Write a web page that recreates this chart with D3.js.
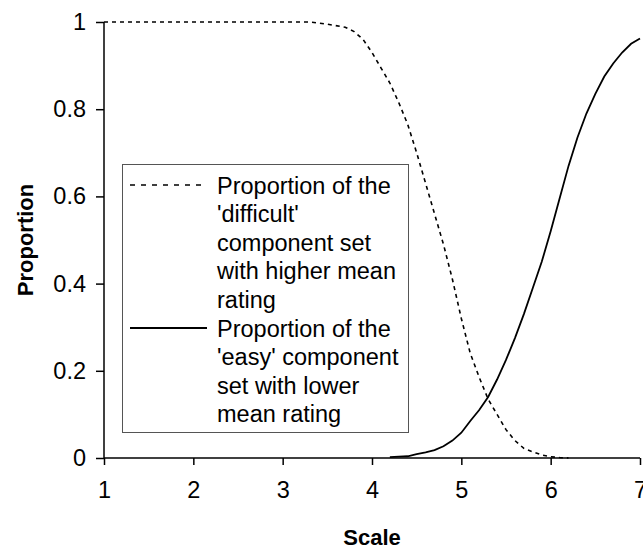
<!DOCTYPE html>
<html>
<head>
<meta charset="utf-8">
<script src="https://d3js.org/d3.v7.min.js"></script>
<style>
  body { margin: 0; background: #fff; }
  text { font-family: Arial, "Liberation Sans", sans-serif; fill: #000; }
</style>
</head>
<body>
<div id="chart"></div>
<script>
// scale values on x axis
var xTicks = [1, 2, 3, 4, 5, 6, 7];
var yTicks = [0, 0.2, 0.4, 0.6, 0.8, 1];
var yTickLabels = ["0", "0.2", "0.4", "0.6", "0.8", "1"];

// 'difficult' set, proportion with higher mean rating
var difficultX = [1, 3.3, 3.5, 3.7, 3.8, 3.9, 4.0, 4.1, 4.2, 4.3, 4.4, 4.5, 4.6, 4.7, 4.8, 4.9,
                  5.0, 5.1, 5.2, 5.3, 5.4, 5.5, 5.6, 5.7, 5.8, 5.9, 6.0, 6.1, 6.2];
var difficultY = [1, 1, 0.995, 0.988, 0.978, 0.96, 0.93, 0.895, 0.86, 0.815, 0.765, 0.70, 0.63, 0.56, 0.49, 0.41,
                  0.32, 0.24, 0.185, 0.135, 0.10, 0.065, 0.04, 0.022, 0.014, 0.007, 0.003, 0.001, 0];

// 'easy' set, proportion with lower mean rating
var easyX = [4.2, 4.3, 4.4, 4.5, 4.6, 4.7, 4.8, 4.9, 5.0, 5.1, 5.2, 5.3, 5.4, 5.5, 5.6, 5.7, 5.8,
             5.9, 6.0, 6.1, 6.2, 6.3, 6.4, 6.5, 6.6, 6.7, 6.8, 6.9, 7.0];
var easyY = [0.002, 0.003, 0.004, 0.009, 0.013, 0.018, 0.027, 0.04, 0.058, 0.085, 0.11, 0.14, 0.18, 0.225, 0.275, 0.33, 0.39,
             0.45, 0.52, 0.595, 0.67, 0.735, 0.79, 0.835, 0.875, 0.905, 0.93, 0.95, 0.962];

var legendLabels = [
    ["Proportion of the", "'difficult'", "component set", "with higher mean", "rating"],
    ["Proportion of the", "'easy' component", "set with lower", "mean rating"]
];

var W = 643, H = 551;

var svg = d3.select("#chart").append("svg")
    .attr("width", W)
    .attr("height", H);

var x = d3.scaleLinear().domain([1, 7]).range([104, 640]);
var y = d3.scaleLinear().domain([0, 1]).range([458, 22]);

// axes
var xAxis = d3.axisBottom(x).tickValues(xTicks).tickSize(7).tickFormat(d3.format("d"));
var yAxis = d3.axisLeft(y).tickValues(yTicks).tickSize(8)
    .tickFormat(function(d, i) { return yTickLabels[i]; });

var gx = svg.append("g").attr("transform", "translate(0," + y(0) + ")").call(xAxis);
var gy = svg.append("g").attr("transform", "translate(" + x(1) + ",0)").call(yAxis);

[gx, gy].forEach(function(g) {
    g.select(".domain").attr("stroke", "#000").attr("stroke-width", 1.5);
    g.selectAll(".tick line").attr("stroke", "#000").attr("stroke-width", 1.5);
    g.selectAll(".tick text")
        .attr("font-size", 23.5)
        .attr("font-family", "Arial, 'Liberation Sans', sans-serif")
        .attr("fill", "#000");
});
gx.select(".domain").attr("d", "M" + x(1) + ",0H" + x(7));
gy.select(".domain").attr("d", "M0," + y(0) + "V" + y(1));
gx.selectAll(".tick text").attr("y", 23);
gy.selectAll(".tick text").attr("x", -18);

// axis titles
svg.append("text")
    .attr("x", 372).attr("y", 545)
    .attr("text-anchor", "middle")
    .attr("font-size", 22).attr("font-weight", "bold")
    .text("Scale");

svg.append("text")
    .attr("transform", "translate(33,240) rotate(-90)")
    .attr("text-anchor", "middle")
    .attr("font-size", 22).attr("font-weight", "bold")
    .text("Proportion");

// curves
var line = d3.line()
    .x(function(d) { return x(d[0]); })
    .y(function(d) { return y(d[1]); });

var difficult = d3.zip(difficultX, difficultY);
var easy = d3.zip(easyX, easyY);

svg.append("path")
    .datum(difficult)
    .attr("d", line)
    .attr("fill", "none")
    .attr("stroke", "#000")
    .attr("stroke-width", 1.6)
    .attr("stroke-dasharray", "4,4");

svg.append("path")
    .datum(easy)
    .attr("d", line)
    .attr("fill", "none")
    .attr("stroke", "#000")
    .attr("stroke-width", 1.8);

// legend
var legend = svg.append("g");
legend.append("rect")
    .attr("x", 122.5).attr("y", 164.5)
    .attr("width", 286).attr("height", 268)
    .attr("fill", "#fff")
    .attr("stroke", "#555")
    .attr("stroke-width", 1);

var lineH = 28.6;
var rowStart = [185, 185 + 5 * lineH];
legendLabels.forEach(function(lines, k) {
    legend.append("line")
        .attr("x1", 130).attr("x2", 207)
        .attr("y1", rowStart[k]).attr("y2", rowStart[k])
        .attr("stroke", "#000")
        .attr("stroke-width", k == 0 ? 1.6 : 1.8)
        .attr("stroke-dasharray", k == 0 ? "5,6" : null);

    var t = legend.append("text")
        .attr("x", 217)
        .attr("y", rowStart[k] + 8.5)
        .attr("font-size", 23.5);
    lines.forEach(function(s, i) {
        t.append("tspan")
            .attr("x", 217)
            .attr("dy", i == 0 ? 0 : lineH)
            .text(s);
    });
});
</script>
</body>
</html>
